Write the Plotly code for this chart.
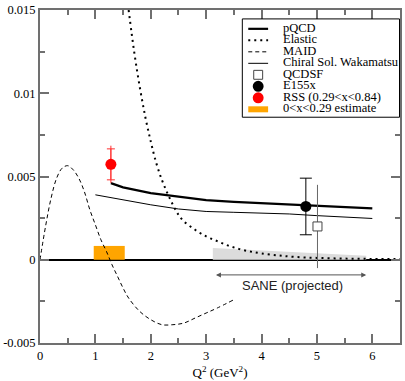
import plotly.graph_objects as go

# ---------------- data ----------------
maid_x = [0, 0.1, 0.2, 0.3, 0.4, 0.5, 0.6, 0.7, 0.8, 0.9, 1.0, 1.1, 1.2, 1.3, 1.4, 1.5, 1.6,
          1.8, 2.0, 2.2, 2.4, 2.6, 2.8, 3.0, 3.2, 3.5]
maid_y = [0, 0.0020, 0.0037, 0.0049, 0.0055, 0.00565, 0.0054, 0.0049, 0.0041, 0.0030, 0.0021,
          0.0012, 0.0005, -0.0003, -0.0010, -0.0017, -0.0023, -0.0031, -0.0036, -0.0039,
          -0.0039, -0.0038, -0.0035, -0.0032, -0.0029, -0.0024]

elastic_x = [1.6, 1.7, 1.8, 1.9, 2.0, 2.1, 2.2, 2.3, 2.4, 2.5, 2.6, 2.8, 3.0, 3.2, 3.4, 3.6,
             3.8, 4.0, 4.3, 4.6, 5.0, 5.5, 6.0, 6.5]
elastic_y = [0.0150, 0.0125, 0.0104, 0.0086, 0.0071, 0.0058, 0.0048, 0.0040, 0.0033, 0.0027,
             0.0023, 0.0018, 0.0014, 0.00112, 0.00085, 0.00064, 0.00049, 0.00038, 0.00026,
             0.00017, 0.00011, 0.00007, 0.00005, 0.00004]

pqcd_x = [1.28, 1.5, 2.0, 2.5, 3.0, 3.5, 4.0, 4.5, 5.0, 5.5, 6.0]
pqcd_y = [0.0046, 0.00435, 0.0040, 0.0038, 0.00358, 0.00348, 0.0034, 0.0033, 0.0032, 0.00312, 0.00308]

chiral_x = [1.0, 1.5, 2.0, 2.5, 3.0, 3.5, 4.0, 4.5, 5.0, 5.5, 6.0]
chiral_y = [0.0039, 0.0036, 0.0033, 0.00305, 0.0029, 0.00285, 0.0028, 0.00275, 0.00265, 0.00255, 0.00248]

e155_x = [4.80]
e155_y = [0.0032]
e155_err = [0.0017]

qcdsf_x = [5.01]
qcdsf_y = [0.0020]
qcdsf_err = [0.0025]

rss_x = [1.28]
rss_y = [0.00573]
rss_err_stat = [0.00093]
rss_err_tot = [0.00112]

est_x = [0.97, 1.53]        # 0<x<0.29 estimate, Q2 range
est_h = 0.00083             # height of estimate box

sane_x = [3.12, 5.89]       # SANE projected band
sane_y = [0.0007, 0.00024]

x_ticks = [0, 1, 2, 3, 4, 5, 6]
y_ticks = [-0.005, 0, 0.005, 0.01, 0.015]
y_ticktext = ["-0.005", "0", "0.005", "0.01", "0.015"]

legend_labels = ["pQCD", "Elastic", "MAID", "Chiral Sol. Wakamatsu", "QCDSF", "E155x",
                 "RSS (0.29<x<0.84)", "0<x<0.29 estimate"]

SERIF = "Liberation Serif"
SANS = "Liberation Sans"
AXIS_GREY = "#707070"

fig = go.Figure()

# grey SANE band
fig.add_trace(go.Scatter(
    x=[sane_x[0], sane_x[0], sane_x[1], sane_x[1]],
    y=[0, sane_y[0], sane_y[1], 0],
    fill="toself", fillcolor="#dcdcdc", line=dict(width=0), mode="lines",
    hoverinfo="skip", showlegend=False))

# orange estimate box
fig.add_trace(go.Scatter(
    x=[est_x[0], est_x[0], est_x[1], est_x[1]],
    y=[0, est_h, est_h, 0],
    fill="toself", fillcolor="#ffa500", line=dict(width=0), mode="lines",
    hoverinfo="skip", showlegend=False))

fig.add_trace(go.Scatter(x=maid_x, y=maid_y, mode="lines", line_shape="spline",
                         line=dict(color="black", width=1, dash="4px,3px"), showlegend=False))
fig.add_trace(go.Scatter(x=elastic_x, y=elastic_y, mode="lines", line_shape="spline",
                         line=dict(color="black", width=2, dash="2px,4px"), showlegend=False))
fig.add_trace(go.Scatter(x=chiral_x, y=chiral_y, mode="lines",
                         line=dict(color="black", width=1), showlegend=False))
fig.add_trace(go.Scatter(x=pqcd_x, y=pqcd_y, mode="lines",
                         line=dict(color="black", width=2.2), showlegend=False))

# QCDSF
fig.add_trace(go.Scatter(x=qcdsf_x, y=qcdsf_y, mode="markers",
                         marker=dict(symbol="square", size=9, color="white",
                                     line=dict(color="#444444", width=1)),
                         error_y=dict(type="data", array=qcdsf_err, color="#666666",
                                      thickness=1, width=0),
                         showlegend=False))
# E155x
fig.add_trace(go.Scatter(x=e155_x, y=e155_y, mode="markers",
                         marker=dict(symbol="circle", size=11, color="black"),
                         error_y=dict(type="data", array=e155_err, color="black",
                                      thickness=1, width=6),
                         showlegend=False))
# RSS
fig.add_trace(go.Scatter(x=rss_x, y=rss_y, mode="markers",
                         marker=dict(symbol="circle", size=1, color="red"),
                         error_y=dict(type="data", array=rss_err_tot, color="#ff3030",
                                      thickness=1, width=0),
                         showlegend=False))
fig.add_trace(go.Scatter(x=rss_x, y=rss_y, mode="markers",
                         marker=dict(symbol="circle", size=11, color="red"),
                         error_y=dict(type="data", array=rss_err_stat, color="#ff3030",
                                      thickness=1, width=4),
                         showlegend=False))

# ---------------- layout ----------------
W, H = 405, 381
L, R, T, B = 39, 3, 7, 38
PW, PH = W - L - R, H - T - B


def px_x(p):
    return (p - L) / PW


def px_y(p):
    return (H - B - p) / PH


shapes = []
annotations = []

row_y = [26 + 11.6 * i for i in range(8)]

# legend box
shapes.append(dict(type="rect", xref="paper", yref="paper",
                   x0=px_x(243), x1=px_x(401.5), y0=px_y(row_y[-1] + 8), y1=px_y(16),
                   line=dict(color="black", width=1), fillcolor="white", layer="above"))

sx0, sx1, sxc = 249, 269, 259
line_styles = [dict(color="black", width=2.2),
               dict(color="black", width=2, dash="2px,4px"),
               dict(color="black", width=1, dash="4px,3px"),
               dict(color="black", width=1)]
for i, ls in enumerate(line_styles):
    shapes.append(dict(type="line", xref="paper", yref="paper",
                       x0=px_x(sx0), x1=px_x(sx1), y0=px_y(row_y[i]), y1=px_y(row_y[i]),
                       line=ls, layer="above"))
# QCDSF square
shapes.append(dict(type="rect", xref="paper", yref="paper",
                   x0=px_x(sxc - 4.5), x1=px_x(sxc + 4.5),
                   y0=px_y(row_y[4] + 4.5), y1=px_y(row_y[4] - 4.5),
                   line=dict(color="#444444", width=1), fillcolor="white", layer="above"))
# E155x and RSS circles
for i, c in [(5, "black"), (6, "red")]:
    shapes.append(dict(type="circle", xref="paper", yref="paper",
                       x0=px_x(sxc - 5.5), x1=px_x(sxc + 5.5),
                       y0=px_y(row_y[i] + 5.5), y1=px_y(row_y[i] - 5.5),
                       line=dict(color=c, width=0), fillcolor=c, layer="above"))
# estimate thick orange line
shapes.append(dict(type="line", xref="paper", yref="paper",
                   x0=px_x(sx0), x1=px_x(sx1), y0=px_y(row_y[7]), y1=px_y(row_y[7]),
                   line=dict(color="#ffa500", width=6), layer="above"))

for lab, ry in zip(legend_labels, row_y):
    annotations.append(dict(text=lab.replace("<", "&lt;"), xref="paper", yref="paper",
                            x=px_x(283), y=px_y(ry - 1.2), xanchor="left", yanchor="middle",
                            showarrow=False, borderpad=0,
                            font=dict(family=SERIF, size=12.5, color="black")))

# SANE arrow and label
annotations.append(dict(x=sane_x[1], y=-0.00091, ax=sane_x[0] + 0.03, ay=-0.00091,
                        xref="x", yref="y", axref="x", ayref="y", text="",
                        showarrow=True, arrowside="end+start", arrowhead=2, arrowsize=1,
                        arrowwidth=1, arrowcolor="#555555"))
annotations.append(dict(x=4.56, y=-0.00155, xref="x", yref="y", text="SANE (projected)",
                        showarrow=False, font=dict(family=SANS, size=13, color="#222222")))

fig.update_layout(
    width=W, height=H,
    margin=dict(l=L, r=R, t=T, b=B, pad=0),
    paper_bgcolor="white", plot_bgcolor="white",
    showlegend=False,
    shapes=shapes, annotations=annotations,
    xaxis=dict(range=[0, 6.5], tickvals=x_ticks, ticks="inside", ticklen=9, tickwidth=1.5,
               tickcolor=AXIS_GREY, showline=True, linecolor=AXIS_GREY, linewidth=2,
               mirror="ticks", showgrid=False, zeroline=False, ticklabeloverflow="allow",
               minor=dict(dtick=0.5, ticks="inside", ticklen=5, tickwidth=1.5,
                          tickcolor=AXIS_GREY, showgrid=False),
               tickfont=dict(family=SERIF, size=12.5, color="black"),
               title=dict(text="Q<sup>2</sup> (GeV<sup>2</sup>)", standoff=6,
                          font=dict(family=SERIF, size=13, color="black"))),
    yaxis=dict(range=[-0.005, 0.015], tickvals=y_ticks, ticktext=y_ticktext,
               ticks="inside", ticklen=9, tickwidth=1.5, tickcolor=AXIS_GREY,
               showline=True, linecolor=AXIS_GREY, linewidth=2, mirror="ticks",
               showgrid=False, zeroline=True, zerolinecolor="black", zerolinewidth=1.5,
               ticklabeloverflow="allow",
               minor=dict(dtick=0.0025, ticks="inside", ticklen=5, tickwidth=1.5,
                          tickcolor=AXIS_GREY, showgrid=False),
               tickfont=dict(family=SERIF, size=12.5, color="black")),
)

fig.write_html("out.html", config={"displayModeBar": False},
               post_script="document.body.style.margin='0px';document.body.style.padding='0px';")
